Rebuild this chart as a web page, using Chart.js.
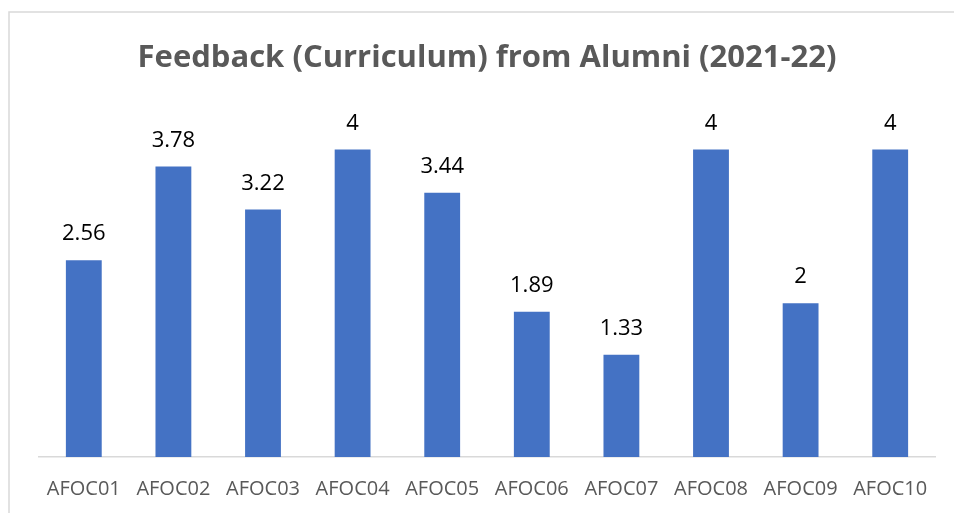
<!DOCTYPE html>
<html>
<head>
<meta charset="utf-8">
<script src="https://cdn.jsdelivr.net/npm/chart.js@4/dist/chart.umd.min.js"></script>
<style>
    html, body { margin: 0; padding: 0; background: #fff; }
    #wrap { position: relative; width: 954px; height: 513px; }
</style>
</head>
<body>
<div id="wrap"><canvas id="feedbackChart" width="954" height="513"></canvas></div>
<script>
// Feedback chart data
const courses = ['AFOC01', 'AFOC02', 'AFOC03', 'AFOC04', 'AFOC05', 'AFOC06', 'AFOC07', 'AFOC08', 'AFOC09', 'AFOC10'];
const scores = [2.56, 3.78, 3.22, 4, 3.44, 1.89, 1.33, 4, 2, 4];
const chartTitle = 'Feedback (Curriculum) from Alumni (2021-22)';

// Light frame around the chart (left and top edges are visible)
const framePlugin = {
    id: 'frame',
    beforeDraw(chart) {
        const ctx = chart.ctx;
        ctx.save();
        ctx.strokeStyle = '#d9d9d9';
        ctx.lineWidth = 1.5;
        ctx.beginPath();
        ctx.moveTo(9, chart.height);
        ctx.lineTo(9, 12);
        ctx.lineTo(chart.width, 12);
        ctx.stroke();
        ctx.restore();
    }
};

// Value labels above each bar
const valueLabels = {
    id: 'valueLabels',
    afterDatasetsDraw(chart) {
        const ctx = chart.ctx;
        const meta = chart.getDatasetMeta(0);
        ctx.save();
        ctx.fillStyle = '#000';
        ctx.font = '22px "Open Sans", sans-serif';
        ctx.textAlign = 'center';
        ctx.textBaseline = 'alphabetic';
        meta.data.forEach((bar, i) => {
            ctx.fillText(String(scores[i]), bar.x, bar.y - 20);
        });
        ctx.restore();
    }
};

const ctx = document.getElementById('feedbackChart').getContext('2d');
new Chart(ctx, {
    type: 'bar',
    data: {
        labels: courses,
        datasets: [{
            data: scores,
            backgroundColor: '#4472c4',
            categoryPercentage: 1,
            barPercentage: 0.4
        }]
    },
    options: {
        responsive: false,
        animation: false,
        layout: {
            padding: { left: 39, right: 19, top: 0, bottom: -8 }
        },
        plugins: {
            legend: { display: false },
            tooltip: { enabled: false },
            title: {
                display: true,
                text: chartTitle,
                color: '#595959',
                font: { family: '"Open Sans", sans-serif', size: 31, weight: 'bold' },
                padding: { top: 40, bottom: 34 }
            }
        },
        scales: {
            x: {
                grid: { display: true, drawOnChartArea: false, drawTicks: false },
                border: { display: true, color: '#d9d9d9', width: 1.5 },
                ticks: {
                    color: '#595959',
                    font: { family: '"Open Sans", sans-serif', size: 20 },
                    padding: 20,
                    maxRotation: 0
                }
            },
            y: {
                display: false,
                min: 0,
                max: 4.5
            }
        }
    },
    plugins: [framePlugin, valueLabels]
});
</script>
</body>
</html>
